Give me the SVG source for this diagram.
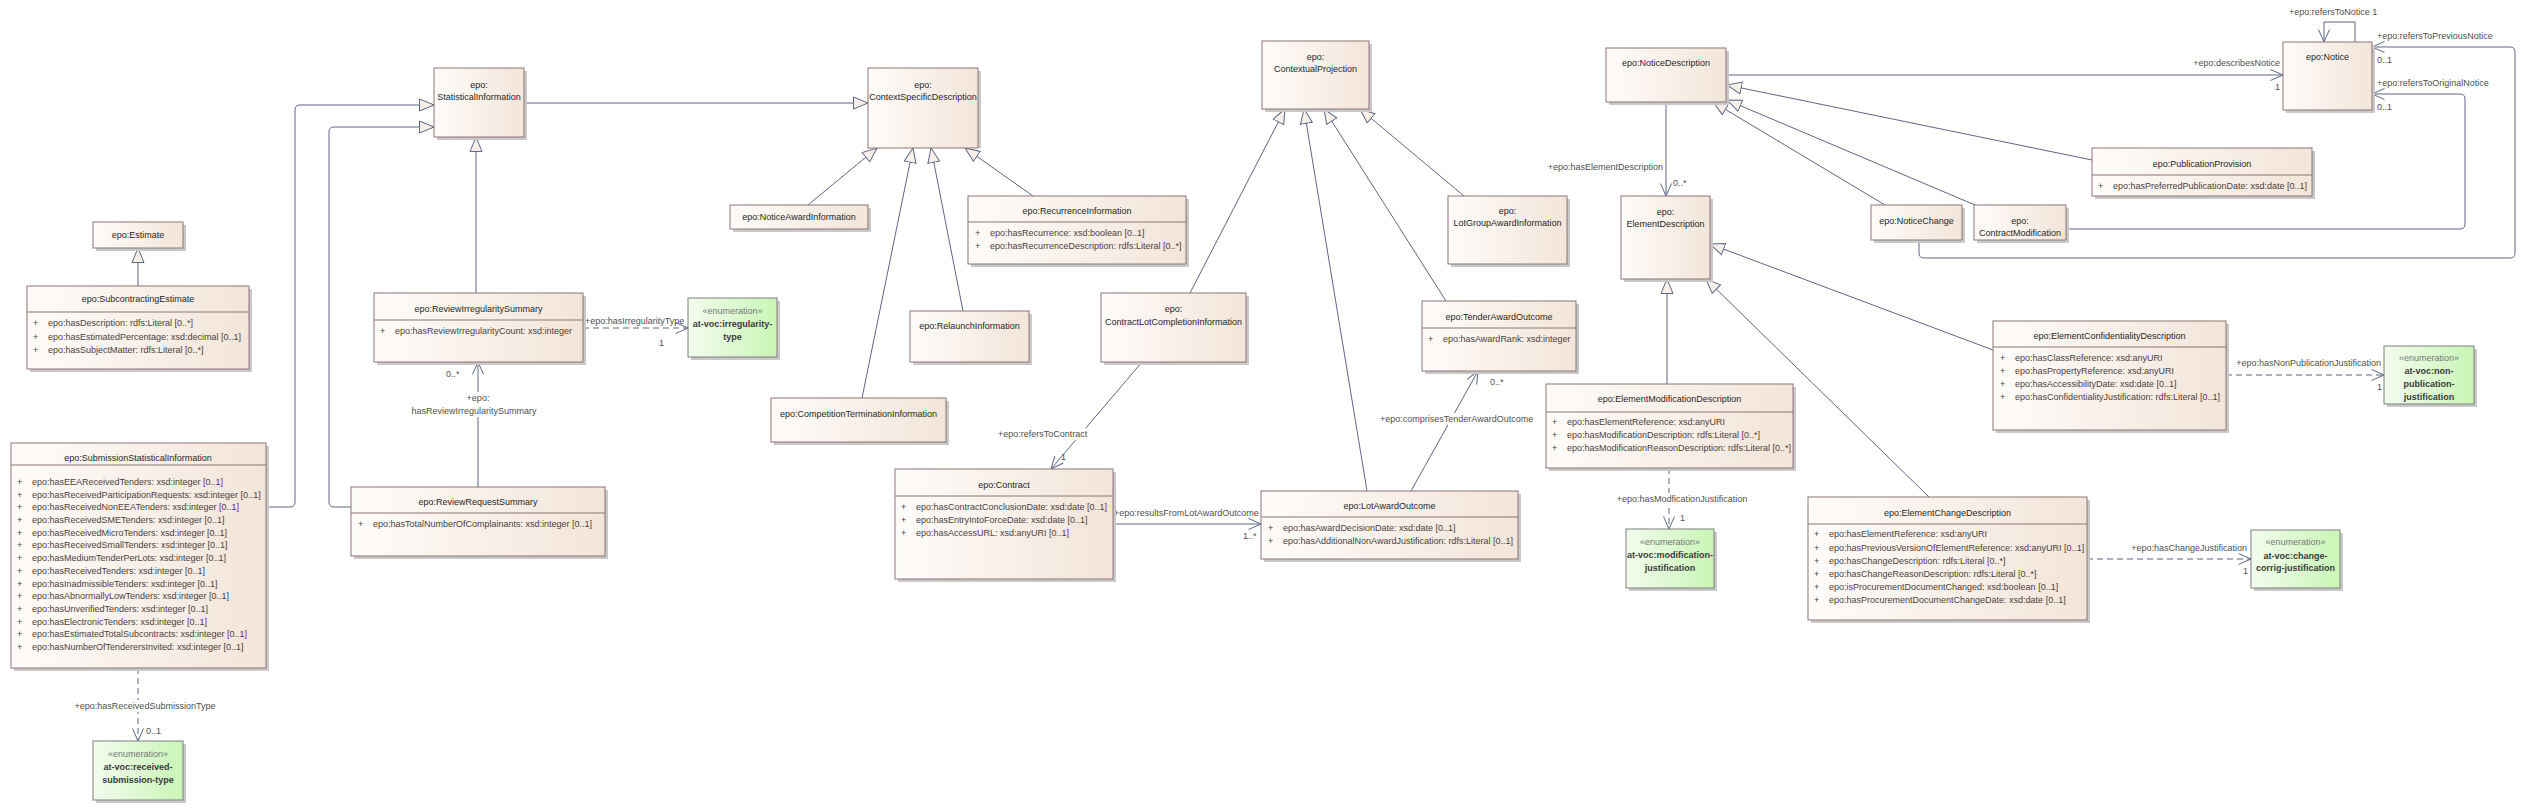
<svg xmlns="http://www.w3.org/2000/svg" width="2525" height="811" viewBox="0 0 2525 811">
<defs>
<linearGradient id="cg" x1="0" y1="0" x2="1" y2="0"><stop offset="0" stop-color="#fefcfa"/><stop offset="1" stop-color="#f3e5d9"/></linearGradient>
<linearGradient id="eg" x1="0" y1="0" x2="1" y2="0"><stop offset="0" stop-color="#f3fcee"/><stop offset="1" stop-color="#c9f5b6"/></linearGradient>
<marker id="gen" markerWidth="17" markerHeight="14" refX="15" refY="7" orient="auto" markerUnits="userSpaceOnUse"><path d="M0.5,1 L15,7 L0.5,13 Z" fill="#f8efe9" stroke="#5d6785" stroke-width="1"/></marker>
<marker id="arr" markerWidth="15" markerHeight="13" refX="13" refY="6" orient="auto" markerUnits="userSpaceOnUse"><path d="M0.5,0.5 L13,6 L0.5,11.5" fill="none" stroke="#5d6785" stroke-width="1"/></marker>
</defs>
<style>
.sh{fill:#c9c9c9}
.b{fill:url(#cg);stroke:#8c7474;stroke-width:1}
.e{fill:url(#eg);stroke:#7f7f7f;stroke-width:1}
.dv{stroke:#8c7474;stroke-width:1}
.t{font-family:"Liberation Sans",Arial,sans-serif;font-size:9px;fill:#262626;text-anchor:middle}
.et{font-family:"Liberation Sans",Arial,sans-serif;font-size:9px;fill:#3a3a3a;text-anchor:middle;font-weight:bold}
.st{font-family:"Liberation Sans",Arial,sans-serif;font-size:9px;fill:#777;text-anchor:middle}
.a{font-family:"Liberation Sans",Arial,sans-serif;font-size:9px;fill:#4d3d3d}
.l{font-family:"Liberation Sans",Arial,sans-serif;font-size:9px;fill:#4f4f4f}
.c{fill:none;stroke:#5d6785;stroke-width:1}
.d{stroke-dasharray:6 4}
.g{marker-end:url(#gen)}
.ar{marker-end:url(#arr)}
.w{fill:#fff}
</style>

<g id="connectors">
<path class="c g" d="M138,286 L138,248"/>
<path class="c g" d="M266,507 L290,507 Q295,507 295,502 L295,110 Q295,105 300,105 L434,105"/>
<path class="c g" d="M351,507 L334,507 Q329,507 329,502 L329,132 Q329,127 334,127 L434,127"/>
<path class="c g" d="M476,293 L476,137"/>
<path class="c g" d="M524,103 L868,103"/>
<path class="c g" d="M808,205 L877,148"/>
<path class="c g" d="M862,398 L913,148"/>
<path class="c g" d="M963,311 L931,148"/>
<path class="c g" d="M1033,196 L965,148"/>
<path class="c g" d="M1190,293 L1285,109"/>
<path class="c g" d="M1367,491 L1304,109"/>
<path class="c g" d="M1446,301 L1324,109"/>
<path class="c g" d="M1464,196 L1360,109"/>
<path class="c g" d="M2092,160 L1727,85"/>
<path class="c g" d="M1975,205 L1727,100"/>
<path class="c g" d="M1885,205 L1713,102"/>
<path class="c g" d="M1667,384 L1667,279"/>
<path class="c g" d="M1929,497 L1706,279"/>
<path class="c g" d="M1993,350 L1710,244"/>

<path class="c d ar" d="M138,668 L138,741"/>
<rect class="w" x="76" y="700" width="140" height="12"/>
<text class="l" x="145" y="709" text-anchor="middle">+epo:hasReceivedSubmissionType</text>
<text class="l" x="146" y="734">0..1</text>

<path class="c d ar" d="M583,328 L688,328"/>
<text class="l" x="585" y="324">+epo:hasIrregularityType</text>
<text class="l" x="659" y="346">1</text>

<path class="c ar" d="M478,487 L478,362"/>
<rect class="w" x="410" y="392" width="128" height="25"/>
<text class="l" x="478" y="401" text-anchor="middle">+epo:</text>
<text class="l" x="474" y="414" text-anchor="middle">hasReviewIrregularitySummary</text>
<text class="l" x="446" y="377">0..*</text>

<path class="c ar" d="M1142,362 L1051,469"/>
<rect class="w" x="998" y="428" width="90" height="12"/>
<text class="l" x="998" y="437">+epo:refersToContract</text>
<text class="l" x="1061" y="460">1</text>

<path class="c ar" d="M1113,524 L1261,524"/>
<text class="l" x="1114" y="516">+epo:resultsFromLotAwardOutcome</text>
<text class="l" x="1243" y="539">1..*</text>

<path class="c ar" d="M1411,491 L1478,371"/>
<rect class="w" x="1379" y="413" width="146" height="12"/>
<text class="l" x="1380" y="422">+epo:comprisesTenderAwardOutcome</text>
<text class="l" x="1490" y="385">0..*</text>

<path class="c ar" d="M1666,102 L1666,196"/>
<text class="l" x="1663" y="170" text-anchor="end">+epo:hasElementDescription</text>
<text class="l" x="1673" y="186">0..*</text>

<path class="c ar" d="M1726,75 L2283,75"/>
<text class="l" x="2280" y="66" text-anchor="end">+epo:describesNotice</text>
<text class="l" x="2280" y="90" text-anchor="end">1</text>

<path class="c ar" d="M2355,42 L2355,22 L2324,22 L2324,42"/>
<text class="l" x="2289" y="15">+epo:refersToNotice 1</text>

<path class="c ar" d="M1919,240 L1919,253 Q1919,258 1924,258 L2510,258 Q2515,258 2515,253 L2515,52 Q2515,47 2510,47 L2372,47"/>
<text class="l" x="2377" y="39">+epo:refersToPreviousNotice</text>
<text class="l" x="2377" y="63">0..1</text>

<path class="c ar" d="M2066,229 L2460,229 Q2465,229 2465,224 L2465,99 Q2465,94 2460,94 L2372,94"/>
<text class="l" x="2377" y="86">+epo:refersToOriginalNotice</text>
<text class="l" x="2377" y="110">0..1</text>

<path class="c d ar" d="M1669,468 L1669,529"/>
<rect class="w" x="1616" y="493" width="134" height="12"/>
<text class="l" x="1682" y="502" text-anchor="middle">+epo:hasModficationJustification</text>
<text class="l" x="1680" y="521">1</text>

<path class="c d ar" d="M2226,375 L2384,375"/>
<text class="l" x="2381" y="366" text-anchor="end">+epo:hasNonPublicationJustification</text>
<text class="l" x="2377" y="390">1</text>

<path class="c d ar" d="M2087,559 L2251,559"/>
<text class="l" x="2247" y="551" text-anchor="end">+epo:hasChangeJustification</text>
<text class="l" x="2243" y="574">1</text>
</g>

<g id="Estimate">
<rect class="sh" x="96" y="225" width="90" height="26"/>
<rect class="b" x="93" y="222" width="90" height="26"/>
<text class="t" x="138" y="238">epo:Estimate</text>
</g>

<g id="SubcontractingEstimate">
<rect class="sh" x="30" y="289" width="222" height="83"/>
<rect class="b" x="27" y="286" width="222" height="83"/>
<line class="dv" x1="27" y1="312" x2="249" y2="312"/>
<text class="t" x="138" y="302">epo:SubcontractingEstimate</text>
<text class="a" x="33" y="326">+</text><text class="a" x="48" y="326">epo:hasDescription: rdfs:Literal [0..*]</text>
<text class="a" x="33" y="340">+</text><text class="a" x="48" y="340">epo:hasEstimatedPercentage: xsd:decimal [0..1]</text>
<text class="a" x="33" y="353">+</text><text class="a" x="48" y="353">epo:hasSubjectMatter: rdfs:Literal [0..*]</text>
</g>

<g id="SubmissionStatisticalInformation">
<rect class="sh" x="14" y="446" width="255" height="225"/>
<rect class="b" x="11" y="443" width="255" height="225"/>
<line class="dv" x1="11" y1="465" x2="266" y2="465"/>
<text class="t" x="138" y="461">epo:SubmissionStatisticalInformation</text>
<text class="a" x="17" y="485">+</text><text class="a" x="32" y="485">epo:hasEEAReceivedTenders: xsd:integer [0..1]</text>
<text class="a" x="17" y="498">+</text><text class="a" x="32" y="498">epo:hasReceivedParticipationRequests: xsd:integer [0..1]</text>
<text class="a" x="17" y="510">+</text><text class="a" x="32" y="510">epo:hasReceivedNonEEATenders: xsd:integer [0..1]</text>
<text class="a" x="17" y="523">+</text><text class="a" x="32" y="523">epo:hasReceivedSMETenders: xsd:integer [0..1]</text>
<text class="a" x="17" y="536">+</text><text class="a" x="32" y="536">epo:hasReceivedMicroTenders: xsd:integer [0..1]</text>
<text class="a" x="17" y="548">+</text><text class="a" x="32" y="548">epo:hasReceivedSmallTenders: xsd:integer [0..1]</text>
<text class="a" x="17" y="561">+</text><text class="a" x="32" y="561">epo:hasMediumTenderPerLots: xsd:integer [0..1]</text>
<text class="a" x="17" y="574">+</text><text class="a" x="32" y="574">epo:hasReceivedTenders: xsd:integer [0..1]</text>
<text class="a" x="17" y="587">+</text><text class="a" x="32" y="587">epo:hasInadmissibleTenders: xsd:integer [0..1]</text>
<text class="a" x="17" y="599">+</text><text class="a" x="32" y="599">epo:hasAbnormallyLowTenders: xsd:integer [0..1]</text>
<text class="a" x="17" y="612">+</text><text class="a" x="32" y="612">epo:hasUnverifiedTenders: xsd:integer [0..1]</text>
<text class="a" x="17" y="625">+</text><text class="a" x="32" y="625">epo:hasElectronicTenders: xsd:integer [0..1]</text>
<text class="a" x="17" y="637">+</text><text class="a" x="32" y="637">epo:hasEstimatedTotalSubcontracts: xsd:integer [0..1]</text>
<text class="a" x="17" y="650">+</text><text class="a" x="32" y="650">epo:hasNumberOfTenderersInvited: xsd:integer [0..1]</text>
</g>

<g id="ReceivedSubmissionType">
<rect class="sh" x="96" y="744" width="90" height="59"/>
<rect class="e" x="93" y="741" width="90" height="59"/>
<text class="st" x="138" y="757">«enumeration»</text>
<text class="et" x="138" y="770">at-voc:received-</text>
<text class="et" x="138" y="783">submission-type</text>
</g>

<g id="StatisticalInformation">
<rect class="sh" x="437" y="71" width="90" height="69"/>
<rect class="b" x="434" y="68" width="90" height="69"/>
<text class="t" x="479" y="88">epo:</text>
<text class="t" x="479" y="100">StatisticalInformation</text>
</g>

<g id="ContextSpecificDescription">
<rect class="sh" x="871" y="71" width="110" height="77"/>
<rect class="b" x="868" y="68" width="110" height="80"/>
<text class="t" x="923" y="88">epo:</text>
<text class="t" x="923" y="100">ContextSpecificDescription</text>
</g>

<g id="NoticeAwardInformation">
<rect class="sh" x="733" y="208" width="138" height="24"/>
<rect class="b" x="730" y="205" width="138" height="24"/>
<text class="t" x="799" y="220">epo:NoticeAwardInformation</text>
</g>

<g id="ReviewIrregularitySummary">
<rect class="sh" x="377" y="296" width="209" height="69"/>
<rect class="b" x="374" y="293" width="209" height="69"/>
<line class="dv" x1="374" y1="320" x2="583" y2="320"/>
<text class="t" x="478.5" y="312">epo:ReviewIrregularitySummary</text>
<text class="a" x="380" y="334">+</text><text class="a" x="395" y="334">epo:hasReviewIrregularityCount: xsd:integer</text>
</g>

<g id="IrregularityType">
<rect class="sh" x="691" y="301" width="89" height="59"/>
<rect class="e" x="688" y="298" width="89" height="59"/>
<text class="st" x="732.5" y="314">«enumeration»</text>
<text class="et" x="732.5" y="327">at-voc:irregularity-</text>
<text class="et" x="732.5" y="340">type</text>
</g>

<g id="ReviewRequestSummary">
<rect class="sh" x="354" y="490" width="254" height="69"/>
<rect class="b" x="351" y="487" width="254" height="69"/>
<line class="dv" x1="351" y1="513" x2="605" y2="513"/>
<text class="t" x="478" y="505">epo:ReviewRequestSummary</text>
<text class="a" x="358" y="527">+</text><text class="a" x="373" y="527">epo:hasTotalNumberOfComplainants: xsd:integer [0..1]</text>
</g>

<g id="RelaunchInformation">
<rect class="sh" x="913" y="314" width="119" height="51"/>
<rect class="b" x="910" y="311" width="119" height="51"/>
<text class="t" x="969.5" y="329">epo:RelaunchInformation</text>
</g>

<g id="CompetitionTerminationInformation">
<rect class="sh" x="774" y="401" width="175" height="44"/>
<rect class="b" x="771" y="398" width="175" height="44"/>
<text class="t" x="858.5" y="417">epo:CompetitionTerminationInformation</text>
</g>

<g id="RecurrenceInformation">
<rect class="sh" x="971" y="199" width="218" height="68"/>
<rect class="b" x="968" y="196" width="218" height="68"/>
<line class="dv" x1="968" y1="222" x2="1186" y2="222"/>
<text class="t" x="1077" y="214">epo:RecurrenceInformation</text>
<text class="a" x="975" y="236">+</text><text class="a" x="990" y="236">epo:hasRecurrence: xsd:boolean [0..1]</text>
<text class="a" x="975" y="249">+</text><text class="a" x="990" y="249">epo:hasRecurrenceDescription: rdfs:Literal [0..*]</text>
</g>

<g id="ContextualProjection">
<rect class="sh" x="1265" y="44" width="107" height="68"/>
<rect class="b" x="1262" y="41" width="107" height="68"/>
<text class="t" x="1315.5" y="60">epo:</text>
<text class="t" x="1315.5" y="72">ContextualProjection</text>
</g>

<g id="ContractLotCompletionInformation">
<rect class="sh" x="1104" y="296" width="145" height="69"/>
<rect class="b" x="1101" y="293" width="145" height="69"/>
<text class="t" x="1173.5" y="312">epo:</text>
<text class="t" x="1173.5" y="325">ContractLotCompletionInformation</text>
</g>

<g id="TenderAwardOutcome">
<rect class="sh" x="1425" y="304" width="154" height="70"/>
<rect class="b" x="1422" y="301" width="154" height="70"/>
<line class="dv" x1="1422" y1="328" x2="1576" y2="328"/>
<text class="t" x="1499" y="320">epo:TenderAwardOutcome</text>
<text class="a" x="1428" y="342">+</text><text class="a" x="1443" y="342">epo:hasAwardRank: xsd:integer</text>
</g>

<g id="LotGroupAwardInformation">
<rect class="sh" x="1451" y="199" width="119" height="68"/>
<rect class="b" x="1448" y="196" width="119" height="68"/>
<text class="t" x="1507.5" y="214">epo:</text>
<text class="t" x="1507.5" y="226">LotGroupAwardInformation</text>
</g>

<g id="Contract">
<rect class="sh" x="898" y="472" width="218" height="110"/>
<rect class="b" x="895" y="469" width="218" height="110"/>
<line class="dv" x1="895" y1="496" x2="1113" y2="496"/>
<text class="t" x="1004" y="488">epo:Contract</text>
<text class="a" x="901" y="510">+</text><text class="a" x="916" y="510">epo:hasContractConclusionDate: xsd:date [0..1]</text>
<text class="a" x="901" y="523">+</text><text class="a" x="916" y="523">epo:hasEntryIntoForceDate: xsd:date [0..1]</text>
<text class="a" x="901" y="536">+</text><text class="a" x="916" y="536">epo:hasAccessURL: xsd:anyURI [0..1]</text>
</g>

<g id="LotAwardOutcome">
<rect class="sh" x="1264" y="494" width="257" height="68"/>
<rect class="b" x="1261" y="491" width="257" height="68"/>
<line class="dv" x1="1261" y1="517" x2="1518" y2="517"/>
<text class="t" x="1389.5" y="509">epo:LotAwardOutcome</text>
<text class="a" x="1268" y="531">+</text><text class="a" x="1283" y="531">epo:hasAwardDecisionDate: xsd:date [0..1]</text>
<text class="a" x="1268" y="544">+</text><text class="a" x="1283" y="544">epo:hasAdditionalNonAwardJustification: rdfs:Literal [0..1]</text>
</g>

<g id="NoticeDescription">
<rect class="sh" x="1609" y="51" width="120" height="54"/>
<rect class="b" x="1606" y="48" width="120" height="54"/>
<text class="t" x="1666" y="66">epo:NoticeDescription</text>
</g>

<g id="ElementDescription">
<rect class="sh" x="1624" y="199" width="89" height="83"/>
<rect class="b" x="1621" y="196" width="89" height="83"/>
<text class="t" x="1665.5" y="215">epo:</text>
<text class="t" x="1665.5" y="227">ElementDescription</text>
</g>

<g id="NoticeChange">
<rect class="sh" x="1874" y="208" width="91" height="35"/>
<rect class="b" x="1871" y="205" width="91" height="35"/>
<text class="t" x="1916.5" y="224">epo:NoticeChange</text>
</g>

<g id="ContractModification">
<rect class="sh" x="1977" y="208" width="92" height="35"/>
<rect class="b" x="1974" y="205" width="92" height="35"/>
<text class="t" x="2020" y="224">epo:</text>
<text class="t" x="2020" y="236">ContractModification</text>
</g>

<g id="Notice">
<rect class="sh" x="2286" y="45" width="89" height="68"/>
<rect class="b" x="2283" y="42" width="89" height="68"/>
<text class="t" x="2327.5" y="60">epo:Notice</text>
</g>

<g id="PublicationProvision">
<rect class="sh" x="2095" y="151" width="220" height="48"/>
<rect class="b" x="2092" y="148" width="220" height="48"/>
<line class="dv" x1="2092" y1="175" x2="2312" y2="175"/>
<text class="t" x="2202" y="167">epo:PublicationProvision</text>
<text class="a" x="2098" y="189">+</text><text class="a" x="2113" y="189">epo:hasPreferredPublicationDate: xsd:date [0..1]</text>
</g>

<g id="ElementModificationDescription">
<rect class="sh" x="1549" y="387" width="247" height="84"/>
<rect class="b" x="1546" y="384" width="247" height="84"/>
<line class="dv" x1="1546" y1="412" x2="1793" y2="412"/>
<text class="t" x="1669.5" y="402">epo:ElementModificationDescription</text>
<text class="a" x="1552" y="425">+</text><text class="a" x="1567" y="425">epo:hasElementReference: xsd:anyURI</text>
<text class="a" x="1552" y="438">+</text><text class="a" x="1567" y="438">epo:hasModificationDescription: rdfs:Literal [0..*]</text>
<text class="a" x="1552" y="451">+</text><text class="a" x="1567" y="451">epo:hasModificationReasonDescription: rdfs:Literal [0..*]</text>
</g>

<g id="ModificationJustification">
<rect class="sh" x="1629" y="532" width="88" height="59"/>
<rect class="e" x="1626" y="529" width="88" height="59"/>
<text class="st" x="1670" y="545">«enumeration»</text>
<text class="et" x="1670" y="558">at-voc:modification-</text>
<text class="et" x="1670" y="571">justification</text>
</g>

<g id="ElementConfidentialityDescription">
<rect class="sh" x="1996" y="324" width="233" height="109"/>
<rect class="b" x="1993" y="321" width="233" height="109"/>
<line class="dv" x1="1993" y1="347" x2="2226" y2="347"/>
<text class="t" x="2109.5" y="339">epo:ElementConfidentialityDescription</text>
<text class="a" x="2000" y="361">+</text><text class="a" x="2015" y="361">epo:hasClassReference: xsd:anyURI</text>
<text class="a" x="2000" y="374">+</text><text class="a" x="2015" y="374">epo:hasPropertyReference: xsd:anyURI</text>
<text class="a" x="2000" y="387">+</text><text class="a" x="2015" y="387">epo:hasAccessibilityDate: xsd:date [0..1]</text>
<text class="a" x="2000" y="400">+</text><text class="a" x="2015" y="400">epo:hasConfidentialityJustification: rdfs:Literal [0..1]</text>
</g>

<g id="NonPublicationJustification">
<rect class="sh" x="2387" y="349" width="90" height="58"/>
<rect class="e" x="2384" y="346" width="90" height="58"/>
<text class="st" x="2429" y="361">«enumeration»</text>
<text class="et" x="2429" y="374">at-voc:non-</text>
<text class="et" x="2429" y="387">publication-</text>
<text class="et" x="2429" y="400">justification</text>
</g>

<g id="ElementChangeDescription">
<rect class="sh" x="1811" y="500" width="279" height="123"/>
<rect class="b" x="1808" y="497" width="279" height="123"/>
<line class="dv" x1="1808" y1="524" x2="2087" y2="524"/>
<text class="t" x="1947.5" y="516">epo:ElementChangeDescription</text>
<text class="a" x="1814" y="537">+</text><text class="a" x="1829" y="537">epo:hasElementReference: xsd:anyURI</text>
<text class="a" x="1814" y="551">+</text><text class="a" x="1829" y="551">epo:hasPreviousVersionOfElementReference: xsd:anyURI [0..1]</text>
<text class="a" x="1814" y="564">+</text><text class="a" x="1829" y="564">epo:hasChangeDescription: rdfs:Literal [0..*]</text>
<text class="a" x="1814" y="577">+</text><text class="a" x="1829" y="577">epo:hasChangeReasonDescription: rdfs:Literal [0..*]</text>
<text class="a" x="1814" y="590">+</text><text class="a" x="1829" y="590">epo:isProcurementDocumentChanged: xsd:boolean [0..1]</text>
<text class="a" x="1814" y="603">+</text><text class="a" x="1829" y="603">epo:hasProcurementDocumentChangeDate: xsd:date [0..1]</text>
</g>

<g id="ChangeCorrigJustification">
<rect class="sh" x="2254" y="533" width="89" height="58"/>
<rect class="e" x="2251" y="530" width="89" height="58"/>
<text class="st" x="2295.5" y="545">«enumeration»</text>
<text class="et" x="2295.5" y="559">at-voc:change-</text>
<text class="et" x="2295.5" y="571">corrig-justification</text>
</g>
</svg>
